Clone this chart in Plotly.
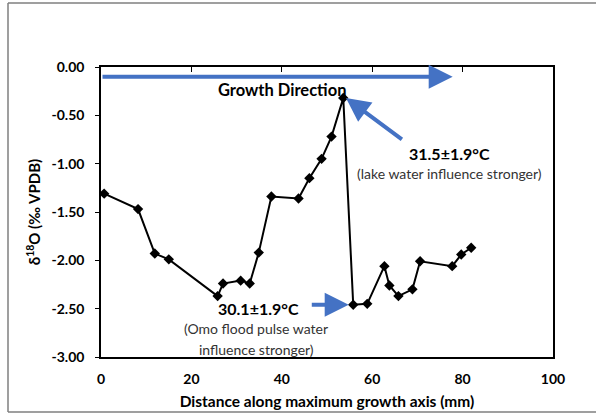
import plotly.graph_objects as go

# Shell transect: sampling distance (mm) and oxygen isotope values (‰ VPDB)
distance_mm = [0.7, 8.2, 11.9, 15.0, 25.8, 27.0, 30.9, 32.9, 34.9, 37.7, 43.7,
               46.1, 48.8, 51.0, 53.6, 55.8, 58.9, 62.7, 63.8, 65.8, 68.9,
               70.6, 77.7, 79.7, 81.9]
d18o = [-1.31, -1.47, -1.93, -1.99, -2.37, -2.24, -2.21, -2.24, -1.92, -1.34,
        -1.36, -1.15, -0.95, -0.72, -0.32, -2.46, -2.45, -2.06, -2.26, -2.37,
        -2.30, -2.01, -2.06, -1.94, -1.87]

x_ticks = [0, 20, 40, 60, 80, 100]
y_ticks = [0.0, -0.5, -1.0, -1.5, -2.0, -2.5, -3.0]
y_tick_labels = ["0.00", "-0.50", "-1.00", "-1.50", "-2.00", "-2.50", "-3.00"]

FONT = "Lato, 'Open Sans', sans-serif"
BLUE = "#4472C4"

fig = go.Figure()
fig.add_trace(go.Scatter(
    x=distance_mm, y=d18o, mode="lines+markers",
    line=dict(color="black", width=2),
    marker=dict(symbol="diamond", size=8, color="black"),
    showlegend=False, hoverinfo="skip",
))
# helper trace so the top tick-mark axis is rendered
fig.add_trace(go.Scatter(x=[0, 100], y=[0, 0], xaxis="x2", mode="markers",
                         marker=dict(opacity=0), showlegend=False, hoverinfo="skip"))

L, R, T, B = 101, 43, 67, 58
fig.update_layout(
    width=596, height=415,
    margin=dict(l=L, r=R, t=T, b=B),
    paper_bgcolor="white", plot_bgcolor="white",
    font=dict(family=FONT, color="black"),
    xaxis=dict(
        range=[0, 100], tickvals=x_ticks, ticks="", automargin=False,
        showline=True, linecolor="black", linewidth=1.5, mirror=True,
        showgrid=False, zeroline=False, ticklabelstandoff=8,
        tickfont=dict(size=14, family=FONT, weight="bold"),
        title=dict(text="<b>Distance along maximum growth axis (mm)</b>",
                   font=dict(size=15.5, family=FONT), standoff=11),
    ),
    xaxis2=dict(
        range=[0, 100], overlaying="x", side="top", tickvals=x_ticks,
        ticks="inside", ticklen=5, tickcolor="black", tickwidth=1,
        showticklabels=False, showline=False, showgrid=False, zeroline=False,
        automargin=False,
    ),
    yaxis=dict(
        range=[-3.0, 0.0], tickvals=y_ticks, ticktext=y_tick_labels,
        ticks="outside", ticklen=4, tickcolor="black", automargin=False,
        showline=True, linecolor="black", linewidth=1.5, mirror=True,
        showgrid=False, zeroline=False, ticklabelstandoff=8,
        tickfont=dict(size=14, family=FONT, weight="bold"),
        title=dict(text="<b>δ<sup>18</sup>O (‰ VPDB)</b>",
                   font=dict(size=15, family=FONT), standoff=7),
    ),
)

# outer frame of the figure
W, H = 596 - L - R, 415 - T - B
def px(x):
    return (x - L) / W
def py(y):
    return (415 - B - y) / H
for x0, y0, x1, y1 in [(8, 3, 8, 412), (8, 3, 600, 3), (8, 412, 600, 412)]:
    fig.add_shape(type="line", xref="paper", yref="paper",
                  x0=px(x0), y0=py(y0), x1=px(x1), y1=py(y1),
                  line=dict(color="#7f7f7f", width=1.5))

# arrows
arrows = [
    dict(x=77.8, y=-0.10, ax=0.0, ay=-0.10, w=4),
    dict(x=54.2, y=-0.32, ax=66.9, ay=-0.76, w=4),
    dict(x=54.8, y=-2.46, ax=46.3, ay=-2.46, w=4),
]
for a in arrows:
    fig.add_annotation(x=a["x"], y=a["y"], ax=a["ax"], ay=a["ay"],
                       xref="x", yref="y", axref="x", ayref="y",
                       showarrow=True, arrowhead=2, arrowsize=1.2,
                       arrowwidth=a["w"], arrowcolor=BLUE, text="")

labels = [
    ("<b>Growth Direction</b>", 40.1, -0.24, 16.5, "black"),
    ("<b>31.5±1.9°C</b>", 77.2, -0.89, 16, "black"),
    ("(lake water influence stronger)", 77.0, -1.10, 14, "#333333"),
    ("<b>30.1±1.9°C</b>", 34.8, -2.50, 16, "black"),
    ("(Omo flood pulse water", 34.4, -2.71, 14, "#333333"),
    ("influence stronger)", 34.4, -2.92, 14, "#333333"),
]
for text, x, y, size, color in labels:
    fig.add_annotation(x=x, y=y, xref="x", yref="y", text=text, showarrow=False,
                       font=dict(size=size, family=FONT, color=color))

fig.write_html("out.html")
